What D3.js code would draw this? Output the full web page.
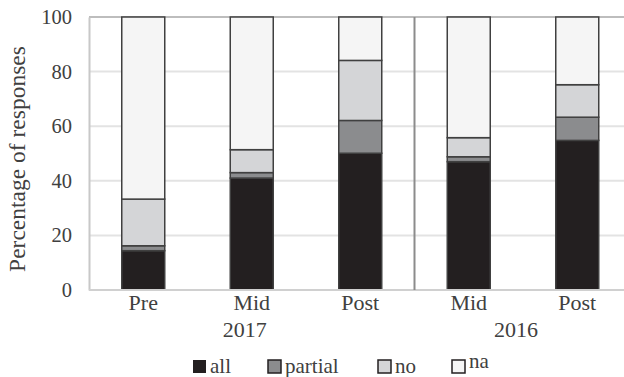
<!DOCTYPE html>
<html><head><meta charset="utf-8">
<script src="https://cdn.jsdelivr.net/npm/d3@7"></script>
<style>body{margin:0;background:#fff}svg{display:block}</style>
</head><body><svg id="c" width="624" height="377"></svg>
<script>
const categories = ["Pre","Mid","Post","Mid","Post"];
const years = ["2017","2017","2017","2016","2016"];
const groups = [{label:"2017", from:0, to:2},{label:"2016", from:3, to:4}];
const seriesNames = ["all","partial","no","na"];
const allVals = [14.4, 41.0, 50.1, 47.0, 54.8];
const partialVals = [1.8, 2.0, 12.0, 1.8, 8.5];
const noVals = [17.1, 8.4, 22.0, 7.0, 11.9];
const naVals = [66.7, 48.6, 15.9, 44.2, 24.8];
const yTicks = [0,20,40,60,80,100];
const colors = ["#231f20","#8b8c8e","#d4d5d7","#f5f5f5"];

(function(){
const FONT = "'Liberation Serif', serif";
const svg = d3.select("#c");
const pL = 89, pT = 17, pB = 290, bandW = 108.5;
const pR = pL + bandW*categories.length;
const x = d3.scaleBand().domain(d3.range(categories.length)).range([pL,pR]);
const y = d3.scaleLinear().domain([0,100]).range([pB,pT]);

// gridlines
svg.append("g").selectAll("line").data(yTicks.filter(t=>t>0)).join("line")
  .attr("x1",pL).attr("x2",pR).attr("y1",d=>y(d)).attr("y2",d=>y(d))
  .attr("stroke",d=>d===100?"#bdbdbd":"#e3e3e3").attr("stroke-width",2);

// y axis
const yAxis = d3.axisLeft(y).tickValues(yTicks).tickSize(0).tickPadding(17);
const ya = svg.append("g").attr("transform",`translate(${pL},0)`).call(yAxis)
  .attr("font-family",FONT).attr("font-size",20.5);
ya.select(".domain").attr("stroke","#c8c8c8").attr("stroke-width",2);
ya.selectAll("text").attr("fill","#404040");

// stacked data
const table = categories.map((c,i)=>({i, all:allVals[i], partial:partialVals[i], no:noVals[i], na:naVals[i]}));
const stack = d3.stack().keys(seriesNames)(table);
const bw = 43;
svg.append("g").selectAll("g").data(stack).join("g").attr("fill",(d,k)=>colors[k])
  .selectAll("rect").data(d=>d).join("rect")
  .attr("x",d=>x(d.data.i)+x.bandwidth()/2-bw/2).attr("width",bw)
  .attr("y",d=>y(d[1])).attr("height",d=>y(d[0])-y(d[1]))
  .attr("stroke","#404040").attr("stroke-width",1.5);

// x axis baseline
svg.append("line").attr("x1",pL).attr("x2",pR).attr("y1",pB).attr("y2",pB)
  .attr("stroke","#d0d0d0").attr("stroke-width",2);

// group separator
const sepX = pL + bandW*3;
svg.append("line").attr("x1",sepX).attr("x2",sepX).attr("y1",pT).attr("y2",pB)
  .attr("stroke","#8c8c8c").attr("stroke-width",2);

const T = svg.append("g").attr("font-family",FONT).attr("font-size",22).attr("fill","#404040");
// category labels
T.append("g").selectAll("text").data(categories).join("text")
  .attr("x",(d,i)=>x(i)+x.bandwidth()/2).attr("y",310).attr("text-anchor","middle")
  .text(d=>d);
T.append("g").selectAll("text").data(groups).join("text")
  .attr("x",g=>(pL+bandW*g.from + pL+bandW*(g.to+1))/2-7).attr("y",337).attr("text-anchor","middle")
  .text(g=>g.label);

// y title
T.append("text").attr("transform","translate(25,159) rotate(-90)").attr("text-anchor","middle")
  .attr("font-size",23.5).text("Percentage of responses");

// legend
const legX = [193, 268, 378, 452];
const lg = T.append("g").attr("font-size",21).selectAll("g").data(seriesNames).join("g")
  .attr("transform",(d,i)=>`translate(${legX[i]},360)`);
lg.append("rect").attr("width",13).attr("height",13).attr("fill",(d,i)=>colors[i])
  .attr("stroke","#231f20").attr("stroke-width",(d,i)=>i===0?0:1.5);
lg.append("text").attr("x",17).attr("y",(d,i)=>i===3?8:13).text(d=>d);
})();
</script></body></html>
